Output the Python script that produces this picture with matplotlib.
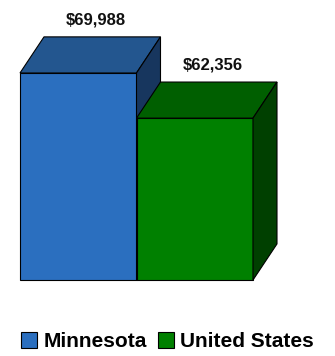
import matplotlib
matplotlib.use("Agg")
import matplotlib.pyplot as plt
from matplotlib.patches import Polygon, Patch

plt.rcParams['font.family'] = ['Liberation Sans', 'DejaVu Sans']

# median household income
regions = ['Minnesota', 'United States']
incomes = [69988, 62356]
income_labels = ['$69,988', '$62,356']

front_colors = ['#2b6fbf', '#008000']
top_colors = ['#23568f', '#005f00']
side_colors = ['#17365e', '#004000']

BASE = 35000      # value axis starts here
DX = 0.206        # depth of the boxes, in bar widths
DY = 6100         # depth of the boxes, in dollars

fig = plt.figure(figsize=(3.35, 3.56), dpi=100)
ax = fig.add_axes([20 / 335, 76 / 356, 315 / 335, 278 / 356])
ax.set_xlim(0, 315 / 116.5)
ax.set_ylim(BASE, BASE + 278 * 169.0)
ax.axis('off')

for i, v in enumerate(incomes):
    x0, x1 = i, i + 1
    front = [(x0, BASE), (x1, BASE), (x1, v), (x0, v)]
    top = [(x0, v), (x1, v), (x1 + DX, v + DY), (x0 + DX, v + DY)]
    side = [(x1, BASE), (x1 + DX, BASE + DY), (x1 + DX, v + DY), (x1, v)]
    for pts, c in [(front, front_colors[i]), (top, top_colors[i]), (side, side_colors[i])]:
        ax.add_patch(Polygon(pts, closed=True, facecolor=c, edgecolor='black',
                             linewidth=0.8, clip_on=False, joinstyle='miter'))
    ax.annotate(income_labels[i], (x0 + 0.5 + DX * 0.75, v + DY), xytext=(0, 9),
                textcoords='offset points', ha='center', va='baseline',
                fontsize=12, fontweight='bold', color='#111111', annotation_clip=False)

handles = [Patch(facecolor=front_colors[i], edgecolor='black', linewidth=0.8, label=regions[i])
           for i in range(len(regions))]
fig.legend(handles=handles, loc='lower center', bbox_to_anchor=(0.5, -0.04), ncol=2,
           frameon=False, handlelength=0.8, handleheight=0.8, handletextpad=0.3,
           columnspacing=0.5, prop={'weight': 'bold', 'size': 15})

fig.savefig('out.png', dpi=100)
